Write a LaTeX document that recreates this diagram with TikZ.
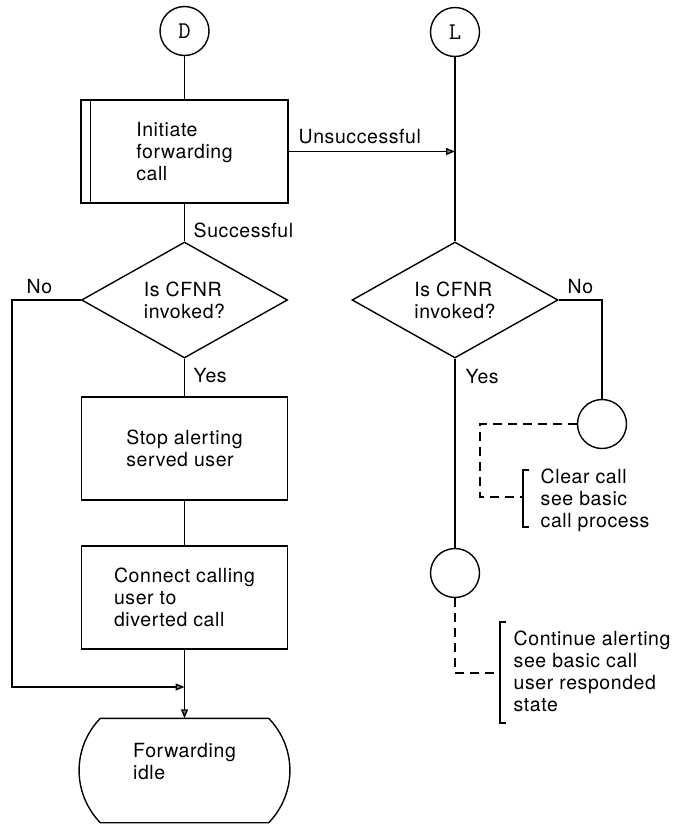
\documentclass[tikz,border=0pt]{standalone}
\usepackage{fontspec}
\setmainfont{TeX Gyre Heros}[LetterSpace=3]
\usetikzlibrary{shapes.geometric,arrows.meta}

\begin{document}
\begin{tikzpicture}[x=1pt,y=-1pt,line width=1.4pt,
  every node/.style={font=\fontsize{19.5}{22}\selectfont},
  onpage/.style={circle,draw,minimum size=49pt,inner sep=0pt,
    font=\ttfamily\fontsize{24}{24}\selectfont},
  proc/.style={rectangle,draw,minimum width=206pt,minimum height=103pt,
    align=left,inner sep=0pt},
  dec/.style={diamond,draw,aspect=1.77,minimum width=206pt,
    minimum height=116pt,inner sep=0pt,align=left},
  term/.style={rectangle,minimum width=167pt,minimum height=103pt,
    inner sep=0pt},
  lbl/.style={anchor=west,inner sep=0pt},
  note/.style={anchor=west,inner sep=0pt,align=left},
  tip/.style={-{Triangle[length=9pt,width=7pt,fill=gray]}},
  link/.style={dash pattern=on 9pt off 6pt}
]
\useasboundingbox (0,0) rectangle (680,825);

% left column
\node[onpage] (D) at (184.5,31) {D};
\node[proc,minimum width=207pt] (init) at (184.5,151.5) {Initiate\\forwarding\\call};
\draw ([xshift=10pt]init.north west) -- ([xshift=10pt]init.south west);
\node[dec] (ldia) at (184.5,300) {Is CFNR\\invoked?};
\node[proc] (stop) at (184.5,448.5) {Stop alerting\\served user};
\node[proc] (connect) at (184.5,597.5) {Connect calling\\user to\\diverted call};
\node[term] (idle) at (184.5,770.5) {};
\draw (idle.north west) -- (idle.north east) to[bend left=44] (idle.south east)
  -- (idle.south west) to[bend left=44] (idle.north west) -- cycle;
\node[align=left,inner sep=0pt] (idletext) at ([yshift=9pt]idle.center) {Forwarding\\idle};

% right column
\node[onpage] (L) at (455,32) {L};
\node[dec] (rdia) at (455,300) {Is CFNR\\invoked?};
\node[onpage] (rc) at (602,424) {};
\node[onpage] (bc) at (455,573) {};

% notes
\node[note] (clr) at (540,500) {Clear call\\see basic\\call process};
\draw ([xshift=-11pt,yshift=30pt]clr.west) -- ++(-6,0) -- ++(0,57) -- ++(6,0);
\coordinate (b1) at ([xshift=-17pt,yshift=3pt]clr.west);
\node[note] (cont) at (513,671) {Continue alerting\\see basic call\\user responded\\state};
\draw ([xshift=-7pt,yshift=49pt]cont.west) -- ++(-6,0) -- ++(0,101) -- ++(6,0);
\coordinate (b2) at ([xshift=-13pt,yshift=-2pt]cont.west);

% labels
\node[lbl] (unsucc) at (298,137) {Unsuccessful};
\node[lbl] (succ) at (193,230) {Successful};
\node[lbl] (lno) at (26,287) {No};
\node[lbl] (rno) at (567,287) {No};
\node[lbl] (lyes) at (193,376) {Yes};
\node[lbl] (ryes) at (465,377) {Yes};

% connectors
\coordinate (join) at (184.5,687);
\coordinate (nobend) at (12,687);
\draw (D) -- (init);
\draw (L) -- (rdia);
\draw[tip] (init.east) -- (init.east -| L.center);
\draw (init) -- (ldia);
\draw (ldia) -- (stop);
\draw (stop) -- (connect);
\draw[tip] (connect) -- (idle);
\draw[tip] (ldia.west) -| (nobend) -- (join);
\draw (rdia.east) -| (rc.north);
\draw (rdia) -- (bc);
\draw[link] (rc.west) -| ([xshift=-43pt]b1) -- (b1);
\draw[link] (bc.south) |- (b2);
\end{tikzpicture}
\end{document}
